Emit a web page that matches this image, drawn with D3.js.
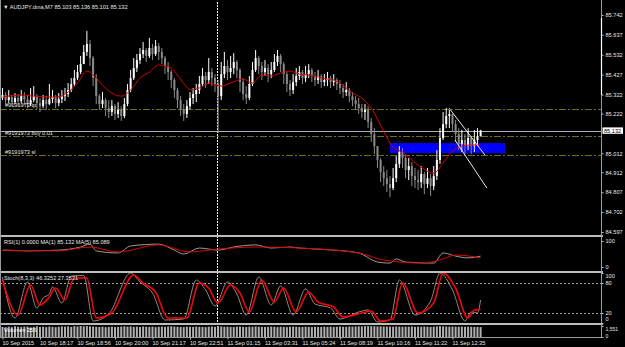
<!DOCTYPE html>
<html><head><meta charset="utf-8">
<script src="https://cdn.jsdelivr.net/npm/d3@7"></script>
<style>
html,body{margin:0;padding:0;background:#000;overflow:hidden}
svg{display:block}
text{font-family:"Liberation Sans",Arial,sans-serif;}
</style>
</head><body><svg id="c" width="625" height="347"></svg>
<script>
// ---------- data ----------
const firstOpen = 85.304;
const closes = [85.320,85.293,85.309,85.282,85.304,85.288,85.314,85.298,85.272,85.293,85.314,85.277,85.261,85.293,85.272,85.298,85.309,85.277,85.298,85.314,
85.325,85.346,85.378,85.409,85.441,85.483,85.547,85.589,85.515,85.409,85.314,85.272,85.293,85.251,85.230,85.261,85.220,85.241,85.209,85.272,
85.346,85.409,85.462,85.504,85.536,85.557,85.526,85.568,85.536,85.578,85.547,85.515,85.473,85.441,85.399,85.346,85.293,85.241,85.220,85.261,
85.304,85.325,85.346,85.378,85.420,85.399,85.441,85.409,85.378,85.314,85.430,85.473,85.441,85.462,85.494,85.452,85.388,85.325,85.304,85.378,
85.452,85.515,85.473,85.441,85.462,85.430,85.452,85.494,85.526,85.483,85.430,85.378,85.346,85.388,85.420,85.441,85.409,85.430,85.452,85.420,
85.399,85.420,85.388,85.399,85.409,85.388,85.399,85.378,85.357,85.335,85.346,85.314,85.293,85.272,85.251,85.230,85.241,85.177,85.114,85.050,
84.977,84.913,84.881,84.850,84.829,84.881,84.956,85.019,84.987,84.924,84.945,84.892,84.871,84.860,84.903,84.850,84.881,84.839,84.892,84.977,
85.093,85.166,85.209,85.220,85.166,85.114,85.061,85.082,85.050,85.093,85.050,85.082,85.103,85.132];
const highs = [85.357,85.335,85.346,85.320,85.330,85.325,85.346,85.335,85.320,85.357,85.367,85.325,85.304,85.320,85.314,85.378,85.346,85.320,85.330,85.346,
85.357,85.383,85.409,85.452,85.478,85.526,85.584,85.658,85.610,85.526,85.430,85.325,85.335,85.304,85.293,85.293,85.272,85.282,85.261,85.304,
85.378,85.452,85.515,85.536,85.568,85.599,85.568,85.621,85.589,85.610,85.594,85.568,85.526,85.494,85.452,85.409,85.357,85.314,85.272,85.293,
85.335,85.357,85.378,85.420,85.462,85.441,85.515,85.462,85.430,85.399,85.494,85.547,85.504,85.526,85.541,85.504,85.462,85.409,85.367,85.420,
85.494,85.557,85.526,85.494,85.504,85.483,85.494,85.536,85.557,85.536,85.494,85.441,85.399,85.430,85.462,85.473,85.452,85.473,85.483,85.462,
85.441,85.452,85.430,85.430,85.441,85.420,85.430,85.409,85.399,85.378,85.388,85.357,85.335,85.314,85.304,85.272,85.272,85.261,85.198,85.145,
85.050,84.987,84.945,84.924,84.892,84.935,84.998,85.050,85.040,84.998,84.987,84.966,84.935,84.924,84.945,84.913,84.935,84.903,84.945,85.029,
85.145,85.230,85.251,85.241,85.220,85.188,85.145,85.135,85.114,85.145,85.103,85.135,85.145,85.136];
const lows = [85.293,85.272,85.277,85.261,85.272,85.261,85.277,85.267,85.251,85.261,85.282,85.246,85.230,85.251,85.241,85.267,85.277,85.251,85.261,85.277,
85.288,85.309,85.335,85.367,85.399,85.430,85.494,85.526,85.473,85.367,85.272,85.241,85.251,85.209,85.198,85.209,85.188,85.198,85.183,85.198,
85.261,85.335,85.399,85.441,85.483,85.515,85.494,85.515,85.504,85.526,85.504,85.483,85.430,85.399,85.357,85.304,85.251,85.209,85.183,85.198,
85.241,85.272,85.282,85.325,85.367,85.357,85.378,85.367,85.335,85.119,85.293,85.409,85.399,85.409,85.430,85.409,85.335,85.293,85.272,85.293,
85.367,85.441,85.430,85.399,85.420,85.388,85.409,85.441,85.473,85.441,85.378,85.335,85.314,85.325,85.367,85.399,85.378,85.388,85.409,85.388,
85.367,85.378,85.357,85.367,85.367,85.357,85.367,85.346,85.325,85.304,85.314,85.282,85.261,85.241,85.220,85.198,85.188,85.145,85.072,85.008,
84.935,84.860,84.839,84.808,84.781,84.818,84.860,84.935,84.935,84.881,84.871,84.839,84.829,84.818,84.829,84.797,84.829,84.787,84.818,84.871,
84.956,85.082,85.145,85.145,85.124,85.072,85.029,85.019,85.008,85.029,85.008,85.019,85.050,85.101];

// moving average on price (bar index, value)
const maIdx = [0,6,10,16,19,21,24,27,30,32,35,38,41,44,47,50,54,56,59,60,63,66,70,73,77,80,83,86,90,92,95,98,104,106,108,112,115,118,121,125,128,133,138,141,143,146,150,153];
const maVal = [85.309,85.320,85.314,85.309,85.314,85.335,85.383,85.446,85.409,85.372,85.330,85.314,85.346,85.409,85.441,85.478,85.462,85.425,85.362,85.346,85.357,85.383,85.367,85.383,85.404,85.383,85.425,85.420,85.441,85.446,85.430,85.425,85.404,85.399,85.383,85.330,85.304,85.251,85.161,85.045,85.019,84.950,84.908,84.961,85.003,85.045,85.056,85.056];

// order levels
const tpLevel = 85.248, buyLevel = 85.103, slLevel = 85.003, bidLevel = 85.132;
const zoneStart = 124, zoneEnd = 161, zoneTop = 85.066, zoneBottom = 85.013;
const trendA = [[142.9, 85.251],[154.4, 85.003]];
const trendB = [[144.8, 85.082],[155.0, 84.829]];
const separatorIdx = 69;

const priceTicks = [85.742,85.637,85.532,85.427,85.322,85.222,85.012,84.912,84.807,84.702,84.597];
const timeIdx = [0,12,24,36,48,60,72,84,96,108,120,132,144];
const timeLabels = ["10 Sep 2015","10 Sep 18:17","10 Sep 18:56","10 Sep 20:00","10 Sep 21:17","10 Sep 22:51","11 Sep 01:15","11 Sep 03:31","11 Sep 05:24","11 Sep 08:19","11 Sep 10:16","11 Sep 11:22","11 Sep 12:35"];

// RSI-panel MA lines (0..100)
const rsiGrayIdx = [0,8,18,25,28,30,37,41,50,55,58,63,69,74,81,86,92,95,106,114,120,124,126,129,138,141,145,149,153];
const rsiGrayVal = [65,62,65,77,88,62,54,81,88,65,50,73,65,77,85,73,77,73,65,54,19,15,31,19,15,54,42,35,42];
const rsiRedIdx = [0,18,28,37,50,60,69,82,95,114,122,134,140,145,153];
const rsiRedVal = [65,62,77,58,85,58,69,77,73,54,27,15,27,46,35];

// Stochastic
const stSigIdx = [0,5,9,12,15,17,20,23,27,30,35,42,45,49,53,59,63,66,69,73,76,79,83,87,90,94,98,101,106,109,115,118,121,125,128,133,138,141,145,149,151,153];
const stSigVal = [86,16,76,36,52,70,46,90,90,10,20,96,80,62,10,10,80,70,40,76,60,22,86,42,70,22,62,42,32,12,20,24,4,8,80,20,40,100,70,10,26,27];
const stMainIdx = [0,4,8,11,13,15,16,19,22,26,29,34,41,44,48,52,58,62,65,68,72,75,78,82,86,89,93,97,100,105,108,114,117,120,124,127,132,137,140,144,148,150,152,153];
const stMainVal = [92,10,82,30,50,58,72,40,94,95,4,18,100,82,60,6,8,86,66,34,82,58,16,92,36,74,16,68,38,30,8,22,26,2,6,86,16,44,100,66,4,22,20,46];

const volumes = [1420,1380,1450,1390,1510,1440,1400,1460,1480,1370,1430,1500,1410,1450,1390,1470,1420,1380,1440,1490,
1460,1500,1420,1530,1480,1551,1510,1540,1500,1470,1440,1410,1450,1390,1420,1460,1400,1430,1470,1500,
1460,1490,1430,1450,1410,1480,1440,1420,1460,1390,1450,1470,1430,1490,1510,1470,1440,1420,1400,1450,
1430,1410,1460,1440,1420,1390,1450,1470,1430,1520,1480,1440,1460,1420,1400,1450,1470,1430,1410,1460,
1440,1480,1450,1420,1410,1430,1460,1440,1400,1450,1420,1390,1430,1460,1440,1410,1420,1450,1430,1400,
1440,1420,1410,1450,1430,1460,1420,1440,1470,1450,1430,1480,1460,1490,1510,1500,1530,1540,1520,1510,
1490,1500,1480,1470,1460,1450,1490,1470,1440,1460,1450,1480,1430,1460,1440,1470,1450,1430,1460,1490,
1520,1500,1480,1460,1470,1450,1440,1460,1430,1450,1440,1420,1410,1400];

// ---------- drawing ----------
const svg = d3.select("#c");
svg.append("rect").attr("width",625).attr("height",347).attr("fill","#000");

const RIGHT = 601.5;
const x = d3.scaleLinear().domain([0,153]).range([2.5,480.6]);
const y = d3.scaleLinear().domain([84.597,85.742]).range([232,15]);
const yR = d3.scaleLinear().domain([0,100]).range([267,241]);
const yS = d3.scaleLinear().domain([0,100]).range([323,273]);
const yV = d3.scaleLinear().domain([0,1551]).range([337,326]);
const FS = "5.6px";
const TXT = "#e8e8e8";

// zone rectangle
svg.append("rect")
  .attr("x", x(zoneStart)).attr("y", y(zoneTop))
  .attr("width", x(zoneEnd)-x(zoneStart)).attr("height", y(zoneBottom)-y(zoneTop))
  .attr("fill","#0000ff");

// level lines
const lv = svg.append("g");
[tpLevel,buyLevel,slLevel].forEach(v=>{
  lv.append("line").attr("x1",0).attr("x2",RIGHT).attr("y1",Math.round(y(v))+0.5).attr("y2",Math.round(y(v))+0.5)
    .attr("stroke","#6e6e1e").attr("stroke-width",1).attr("stroke-dasharray","7,2,2,2");
});
lv.append("line").attr("x1",0).attr("x2",RIGHT).attr("y1",Math.round(y(bidLevel))+0.5).attr("y2",Math.round(y(bidLevel))+0.5)
  .attr("stroke","#a8aeb8").attr("stroke-width",1);

// period separator
svg.append("line").attr("x1",Math.round(x(separatorIdx))-0.5).attr("x2",Math.round(x(separatorIdx))-0.5)
  .attr("y1",2).attr("y2",337).attr("stroke","#ffffff").attr("stroke-width",1).attr("stroke-dasharray","2,1");

// candles
const bars = closes.map((c,i)=>({i, o: i===0?firstOpen:closes[i-1], c, h: highs[i], l: lows[i]}));
const cg = svg.append("g");
bars.forEach(b=>{
  const up = b.c >= b.o;
  const col = up ? "#ffffff" : "#8a8a8a";
  const cx = x(b.i);
  cg.append("line").attr("x1",cx).attr("x2",cx).attr("y1",y(b.h)).attr("y2",y(b.l))
    .attr("stroke",col).attr("stroke-width",1);
  const top = y(Math.max(b.o,b.c)), bot = y(Math.min(b.o,b.c));
  cg.append("rect").attr("x",cx-1).attr("y",top).attr("width",2).attr("height",Math.max(1,bot-top)).attr("fill",col);
});

// MA line
const maData = maIdx.map((d,i)=>[d,maVal[i]]);
svg.append("path").datum(maData)
  .attr("d", d3.line().x(d=>x(d[0])).y(d=>y(d[1])).curve(d3.curveMonotoneX))
  .attr("fill","none").attr("stroke","#d80000").attr("stroke-width",1);

// trend lines
[trendA,trendB].forEach(t=>{
  svg.append("line").attr("x1",x(t[0][0])).attr("y1",y(t[0][1])).attr("x2",x(t[1][0])).attr("y2",y(t[1][1]))
    .attr("stroke","#ffffff").attr("stroke-width",0.9);
});

// labels in chart
svg.append("text").attr("x",3).attr("y",8.5).attr("font-size",FS).attr("fill",TXT)
  .text("\u25BC AUDJPY.dma,M7  85.103 85.136 85.101 85.132");
const orderLbl = [["#9191973 tp",tpLevel],["#9191973 buy 0.01",buyLevel],["#9191973 sl",slLevel]];
orderLbl.forEach(d=>{
  svg.append("text").attr("x",5).attr("y",y(d[1])-1.5).attr("font-size",FS).attr("fill",TXT).text(d[0]);
});

// sub panels
const ln = (idx, vals, sc) => d3.line().x((d,i)=>x(idx[i])).y(d=>sc(d)).curve(d3.curveMonotoneX)(vals);
svg.append("path").attr("d", ln(rsiGrayIdx, rsiGrayVal, yR)).attr("fill","none").attr("stroke","#9a9a9a").attr("stroke-width",1);
svg.append("path").attr("d", ln(rsiRedIdx, rsiRedVal, yR)).attr("fill","none").attr("stroke","#e00000").attr("stroke-width",1);
svg.append("text").attr("x",4).attr("y",244).attr("font-size",FS).attr("fill",TXT)
  .text("RSI(1) 0.0000  MA(1) 85.132  MA(5) 85.089");

[80,20].forEach(v=>{
  svg.append("line").attr("x1",0).attr("x2",RIGHT).attr("y1",Math.round(yS(v))+0.5).attr("y2",Math.round(yS(v))+0.5)
    .attr("stroke","#c8c8c8").attr("stroke-width",0.8).attr("stroke-dasharray","2,2");
});
svg.append("path").attr("d", ln(stMainIdx, stMainVal, yS)).attr("fill","none").attr("stroke","#8a8a8a").attr("stroke-width",1);
svg.append("path").attr("d", ln(stSigIdx, stSigVal, yS)).attr("fill","none").attr("stroke","#ff0000").attr("stroke-width",1.6);
svg.append("text").attr("x",4).attr("y",280).attr("font-size",FS).attr("fill",TXT)
  .text("Stoch(8,3,3) 46.3252 27.3531");

// volumes
const vg = svg.append("g");
volumes.forEach((v,i)=>{
  vg.append("rect").attr("x",x(i)-1).attr("y",yV(v)).attr("width",2).attr("height",337-yV(v)).attr("fill","#b0b0b0");
});
svg.append("text").attr("x",4).attr("y",332).attr("font-size",FS).attr("fill","#ffffff")
  .text("Volumes 256");

// separators and frame
[[235,237],[271,273],[323,325]].forEach(s=>{
  svg.append("rect").attr("x",0).attr("y",s[0]).attr("width",603).attr("height",s[1]-s[0]).attr("fill","#bdbdbd");
});
svg.append("line").attr("x1",RIGHT).attr("x2",RIGHT).attr("y1",0).attr("y2",337.5).attr("stroke","#9a9a9a");
svg.append("line").attr("x1",RIGHT).attr("x2",RIGHT).attr("y1",18).attr("y2",95).attr("stroke","#ffffff").attr("stroke-width",1.2);
svg.append("line").attr("x1",0.5).attr("x2",0.5).attr("y1",0).attr("y2",337.5).attr("stroke","#9a9a9a");
svg.append("line").attr("x1",0).attr("x2",RIGHT).attr("y1",337.5).attr("y2",337.5).attr("stroke","#9a9a9a");

// axes
function styleAxis(g){
  g.select(".domain").remove();
  g.selectAll(".tick line").attr("stroke","#c0c0c0");
  g.selectAll(".tick text").attr("fill",TXT).attr("font-size",FS).attr("font-family","Liberation Sans, Arial, sans-serif");
}
const ay = svg.append("g").attr("transform",`translate(${RIGHT},0)`)
  .call(d3.axisRight(y).tickValues(priceTicks).tickSize(2).tickPadding(2).tickFormat(d3.format(".3f")));
styleAxis(ay);
svg.append("g").attr("transform",`translate(${RIGHT},0)`)
  .call(d3.axisRight(yR).tickValues([0,100]).tickSize(2).tickPadding(2)).call(styleAxis);
const aS = svg.append("g").attr("transform",`translate(${RIGHT},0)`)
  .call(d3.axisRight(yS).tickValues([0,20,80,100]).tickSize(2).tickPadding(2)).call(styleAxis);
aS.selectAll(".tick text").attr("transform", d => d===100 ? "translate(0,3)" : d===0 ? "translate(0,-4)" : null);
const aV = svg.append("g").attr("transform",`translate(${RIGHT},0)`)
  .call(d3.axisRight(yV).tickValues([0,1551]).tickSize(2).tickPadding(2)).call(styleAxis);
aV.selectAll(".tick text").attr("font-size","5px").attr("transform", d => d===1551 ? "translate(0,2.5)" : "translate(0,-1)");

const ax = svg.append("g").attr("transform","translate(0,337.5)")
  .call(d3.axisBottom(x).tickValues(timeIdx).tickSize(2).tickPadding(1.5).tickFormat((d,i)=>timeLabels[i]));
styleAxis(ax);
ax.selectAll(".tick text").attr("text-anchor","start").attr("x",-0.5);

// bid price box
const by = y(bidLevel);
svg.append("rect").attr("x",602.5).attr("y",by-3.2).attr("width",20.5).attr("height",6.4).attr("fill","#ffffff");
svg.append("text").attr("x",604).attr("y",by+2).attr("font-size",FS).attr("fill","#000").text(bidLevel.toFixed(3));
</script>
</body></html>
